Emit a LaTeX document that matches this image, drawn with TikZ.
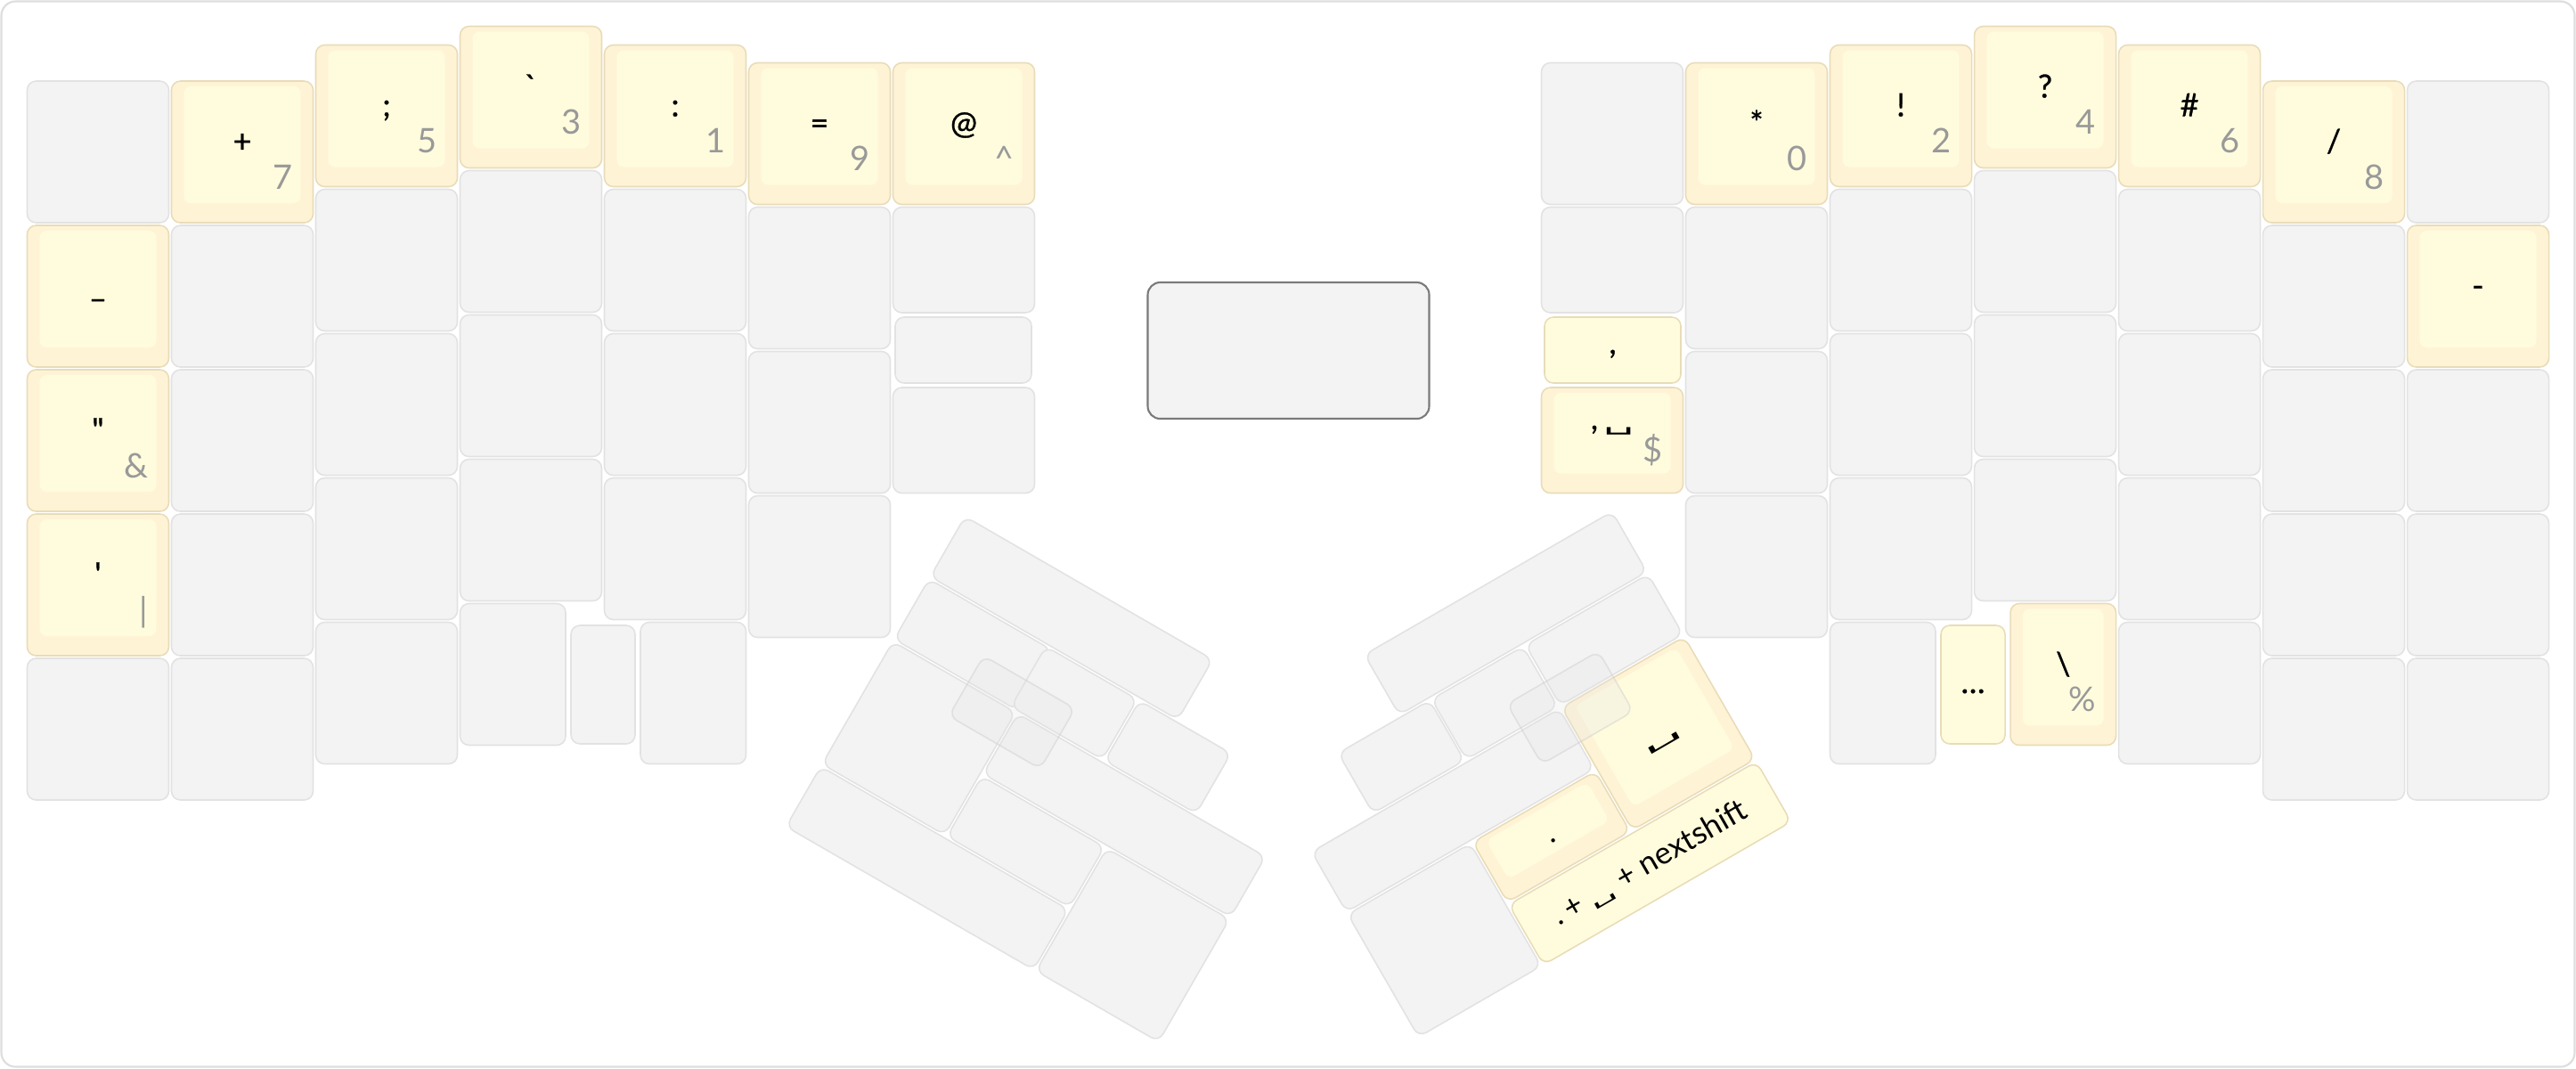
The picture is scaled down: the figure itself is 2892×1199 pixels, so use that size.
\documentclass[tikz,border=0pt]{standalone}
\usepackage{fontspec}
\usepackage{graphicx}
\newfontfamily\lato{Lato}
\newfontfamily\latom{Lato}[FakeBold=0.8]
\newfontfamily\dvs{DejaVu Sans}
\usetikzlibrary{calc}
\definecolor{kfill}{HTML}{F3F3F3}
\definecolor{kline}{HTML}{E2E2E2}
\definecolor{yfill}{HTML}{FFF3D6}
\definecolor{yface}{HTML}{FFFCDD}
\definecolor{yline}{HTML}{E8DCB8}
\definecolor{subc}{HTML}{999999}
\definecolor{framec}{HTML}{DDDDDD}
\definecolor{cline}{HTML}{7A7A7A}
\newcommand{\pxu}{0.01cm}
\newcommand{\K}[6][keyb]{\node[#1, minimum width=#4*\pxu, minimum height=#5*\pxu] (#6) at (#2,#3) {};}
\newcommand{\F}[1]{\fill[yface, rounded corners=0.08cm] ([xshift=0.14cm,yshift=-0.06cm]#1.north west) rectangle ([xshift=-0.14cm,yshift=0.22cm]#1.south east);}
\newcommand{\spc}[2][1.5]{{\dvs\scalebox{#1}[#2]{␣}}}
\begin{document}
\begin{tikzpicture}[x=0.01cm, y=-0.01cm, font=\lato,
  keyb/.style={draw=kline, fill=kfill, line width=0.45pt, rounded corners=0.10cm, inner sep=0pt, outer sep=0pt},
  ykey/.style={keyb, draw=yline, fill=yfill},
  flatkey/.style={keyb, draw=yline, fill=yface},
  tkey/.style={keyb, fill=black!10, fill opacity=0.28, draw=black!20, draw opacity=0.45},
  face/.style={fill=yface, draw=none, rounded corners=0.08cm, inner sep=0pt},
  mainlbl/.style={font=\latom\fontsize{10.2}{11}\selectfont, text=black, inner sep=0pt, anchor=base},
  sublbl/.style={font=\lato\fontsize{10.8}{11}\selectfont, text=subc, inner sep=0pt, anchor=base east},
  rotlbl/.style={font=\lato\fontsize{9.9}{10}\selectfont, text=black, inner sep=0pt}]
\useasboundingbox (0,0) rectangle (2892,1199);
\draw[draw=framec, line width=0.6pt, rounded corners=0.16cm] (1.5,1.5) rectangle (2890.5,1197.5);

% ---------- left half ----------
\K{110}{170.5}{159}{159}{L00}
\K[ykey]{110}{332.5}{159}{159}{L01} \F{L01}
\K[ykey]{110}{494.5}{159}{159}{L02} \F{L02}
\K[ykey]{110}{656.5}{159}{159}{L03} \F{L03}
\K{110}{818.5}{159}{159}{L04}
\K[ykey]{272}{170.5}{159}{159}{L10} \F{L10}
\K{272}{332.5}{159}{159}{L11}
\K{272}{494.5}{159}{159}{L12}
\K{272}{656.5}{159}{159}{L13}
\K{272}{818.5}{159}{159}{L14}
\K[ykey]{434}{130}{159}{159}{L20} \F{L20}
\K{434}{292}{159}{159}{L21}
\K{434}{454}{159}{159}{L22}
\K{434}{616}{159}{159}{L23}
\K{434}{778}{159}{159}{L24}
\K[ykey]{596}{109}{159}{159}{L30} \F{L30}
\K{596}{271}{159}{159}{L31}
\K{596}{433}{159}{159}{L32}
\K{596}{595}{159}{159}{L33}
\K{575.75}{757}{118.5}{159}{L34}
\K{677}{768.5}{72}{133}{LSM}
\K[ykey]{758}{130}{159}{159}{L40} \F{L40}
\K{758}{292}{159}{159}{L41}
\K{758}{454}{159}{159}{L42}
\K{758}{616}{159}{159}{L43}
\K{778.25}{778}{118.5}{159}{L44}
\K[ykey]{920}{150}{159}{159}{L50} \F{L50}
\K{920}{312}{159}{159}{L51}
\K{920}{474}{159}{159}{L52}
\K{920}{636}{159}{159}{L53}
\K[ykey]{1082}{150}{159}{159}{L60} \F{L60}
\K{1082}{291.75}{159}{118.5}{L61}
\K{1081.5}{393}{153}{74}{L62}
\K{1082}{494.25}{159}{118.5}{L63}

% ---------- right half ----------
\K{1810}{150}{159}{159}{R00}
\K{1810}{291.75}{159}{118.5}{R01}
\K[flatkey]{1810.5}{393}{153}{74}{R02}
\K[ykey]{1810}{494.25}{159}{118.5}{R03} \F{R03}
\K[ykey]{1972}{150}{159}{159}{R10} \F{R10}
\K{1972}{312}{159}{159}{R11}
\K{1972}{474}{159}{159}{R12}
\K{1972}{636}{159}{159}{R13}
\K[ykey]{2134}{130}{159}{159}{R20} \F{R20}
\K{2134}{292}{159}{159}{R21}
\K{2134}{454}{159}{159}{R22}
\K{2134}{616}{159}{159}{R23}
\K{2113.75}{778}{118.5}{159}{R24}
\K[flatkey]{2215}{768.5}{72}{133}{RSM}
\K[ykey]{2296}{109}{159}{159}{R30} \F{R30}
\K{2296}{271}{159}{159}{R31}
\K{2296}{433}{159}{159}{R32}
\K{2296}{595}{159}{159}{R33}
\K[ykey]{2316.25}{757}{118.5}{159}{R34} \F{R34}
\K[ykey]{2458}{130}{159}{159}{R40} \F{R40}
\K{2458}{292}{159}{159}{R41}
\K{2458}{454}{159}{159}{R42}
\K{2458}{616}{159}{159}{R43}
\K{2458}{778}{159}{159}{R44}
\K[ykey]{2620}{170.5}{159}{159}{R50} \F{R50}
\K{2620}{332.5}{159}{159}{R51}
\K{2620}{494.5}{159}{159}{R52}
\K{2620}{656.5}{159}{159}{R53}
\K{2620}{818.5}{159}{159}{R54}
\K{2782}{170.5}{159}{159}{R60}
\K[ykey]{2782}{332.5}{159}{159}{R61} \F{R61}
\K{2782}{494.5}{159}{159}{R62}
\K{2782}{656.5}{159}{159}{R63}
\K{2782}{818.5}{159}{159}{R64}

% center block
\node[draw=cline, fill=kfill, line width=0.6pt, rounded corners=0.14cm, inner sep=0pt,
      minimum width=316*\pxu, minimum height=153*\pxu] (ctr) at (1446.5,393.5) {};

% ---------- left thumb ----------
\begin{scope}[shift={(1202.9,693.8)}, rotate=-30]
\K[keyb,rotate=-30]{0}{0}{321}{78}{LT1}
\K[keyb,rotate=-30]{-81}{81}{159}{78}{LT2}
\K[keyb,rotate=-30]{50.2}{81}{118.5}{78}{LT3}
\K[keyb,rotate=-30]{171.7}{81}{118.5}{78}{LT4}
\K[keyb,rotate=-30]{-81}{202.5}{159}{159}{LT6}
\K[keyb,rotate=-30]{162}{162}{321}{78}{LT7}
\K[keyb,rotate=-30]{0}{324}{321}{78}{LT8}
\K[keyb,rotate=-30]{81}{243}{159}{78}{LT9}
\K[keyb,rotate=-30]{243}{283.5}{159}{159}{LT10}
\K[tkey,rotate=-30]{-5}{125}{118.5}{78}{LT5}
\end{scope}

% ---------- right thumb ----------
\begin{scope}[shift={(1690.3,688.4)}, rotate=30, xscale=-1]
\K[keyb,rotate=30]{0}{0}{321}{78}{RT1}
\K[keyb,rotate=30]{-81}{81}{159}{78}{RT2}
\K[keyb,rotate=30]{61}{81}{118.5}{78}{RT3}
\K[keyb,rotate=30]{182}{81}{118.5}{78}{RT4}
\K[keyb,rotate=30]{162}{162}{321}{78}{RT7}
\K[keyb,rotate=30]{243}{283.5}{159}{159}{RT10}
\K[ykey,rotate=30]{-81}{202.5}{159}{159}{RT6}
\K[flatkey,rotate=30]{0}{324}{321}{78}{RT8}
\K[ykey,rotate=30]{81}{243}{159}{78}{RT9}
\end{scope}
\node[face, rotate=30, minimum width=131*\pxu, minimum height=131*\pxu] (RT6f) at ($(RT6.center)!0.08cm!(RT6.north)$) {};
\node[face, rotate=30, minimum width=131*\pxu, minimum height=50*\pxu] (RT9f) at ($(RT9.center)!0.08cm!(RT9.north)$) {};
\node[rotlbl, rotate=30] (tsp) at ($(RT6.center)!0.124cm!(RT6.south)$) {\spc[2.1]{0.7}};
\node[rotlbl, rotate=30] (tdot) at ($(RT9.center)!0.05cm!(RT9.south)$) {.};
\node[rotlbl, rotate=30] (tns) at (RT8.center) {.\,+\ \spc[1.4]{0.6}\ + nextshift};
\begin{scope}[shift={(1690.3,688.4)}, rotate=30, xscale=-1]
\K[tkey,rotate=30]{-9.7}{128}{118.5}{78}{RT5}
\end{scope}

% ---------- labels left ----------
\node[mainlbl] (t01) at (110,333) {\_};
\node[mainlbl] (t02) at (110,495) {"};
\node[sublbl] (s02) at (167,536) {\&};
\node[mainlbl] (t03) at (110,657) {'};
\node[sublbl] (s03) at (167,698) {|};
\node[mainlbl] (t10) at (272,171) {+};
\node[sublbl] (s10) at (329,212) {7};
\node[mainlbl] (t20) at (434,130.5) {;};
\node[sublbl] (s20) at (491,171.5) {5};
\node[mainlbl] (t30) at (596,109.5) {`};
\node[sublbl] (s30) at (653,150.5) {3};
\node[mainlbl] (t40) at (758,130.5) {:};
\node[sublbl] (s40) at (815,171.5) {1};
\node[mainlbl] (t50) at (920,150.5) {=};
\node[sublbl] (s50) at (977,191.5) {9};
\node[mainlbl] (t60) at (1082,150.5) {@};
\node[sublbl] (s60) at (1139,191.5) {\textasciicircum};

% ---------- labels right ----------
\node[mainlbl] (t71) at (1972,150.5) {*};
\node[sublbl] (s71) at (2029,191.5) {0};
\node[mainlbl] (t72) at (2134,130.5) {!};
\node[sublbl] (s72) at (2191,171.5) {2};
\node[mainlbl] (t73) at (2296,109.5) {?};
\node[sublbl] (s73) at (2353,150.5) {4};
\node[mainlbl] (t74) at (2458,130.5) {\#};
\node[sublbl] (s74) at (2515,171.5) {6};
\node[mainlbl] (t75) at (2620,171) {/};
\node[sublbl] (s75) at (2677,212) {8};
\node[mainlbl] (t76) at (2782,333) {-};
\node[mainlbl] (t7c) at (1810.5,397) {,};
\node[mainlbl] (t7d) at (1810,482) {,\,\spc[1.5]{0.7}};
\node[sublbl] (s7d) at (1867,518) {\$};
\node[mainlbl] (t7e) at (2215,778) {…};
\node[mainlbl] (t7f) at (2316.25,758) {\textbackslash};
\node[sublbl] (s7f) at (2353.5,798.5) {\%};
\end{tikzpicture}
\end{document}
